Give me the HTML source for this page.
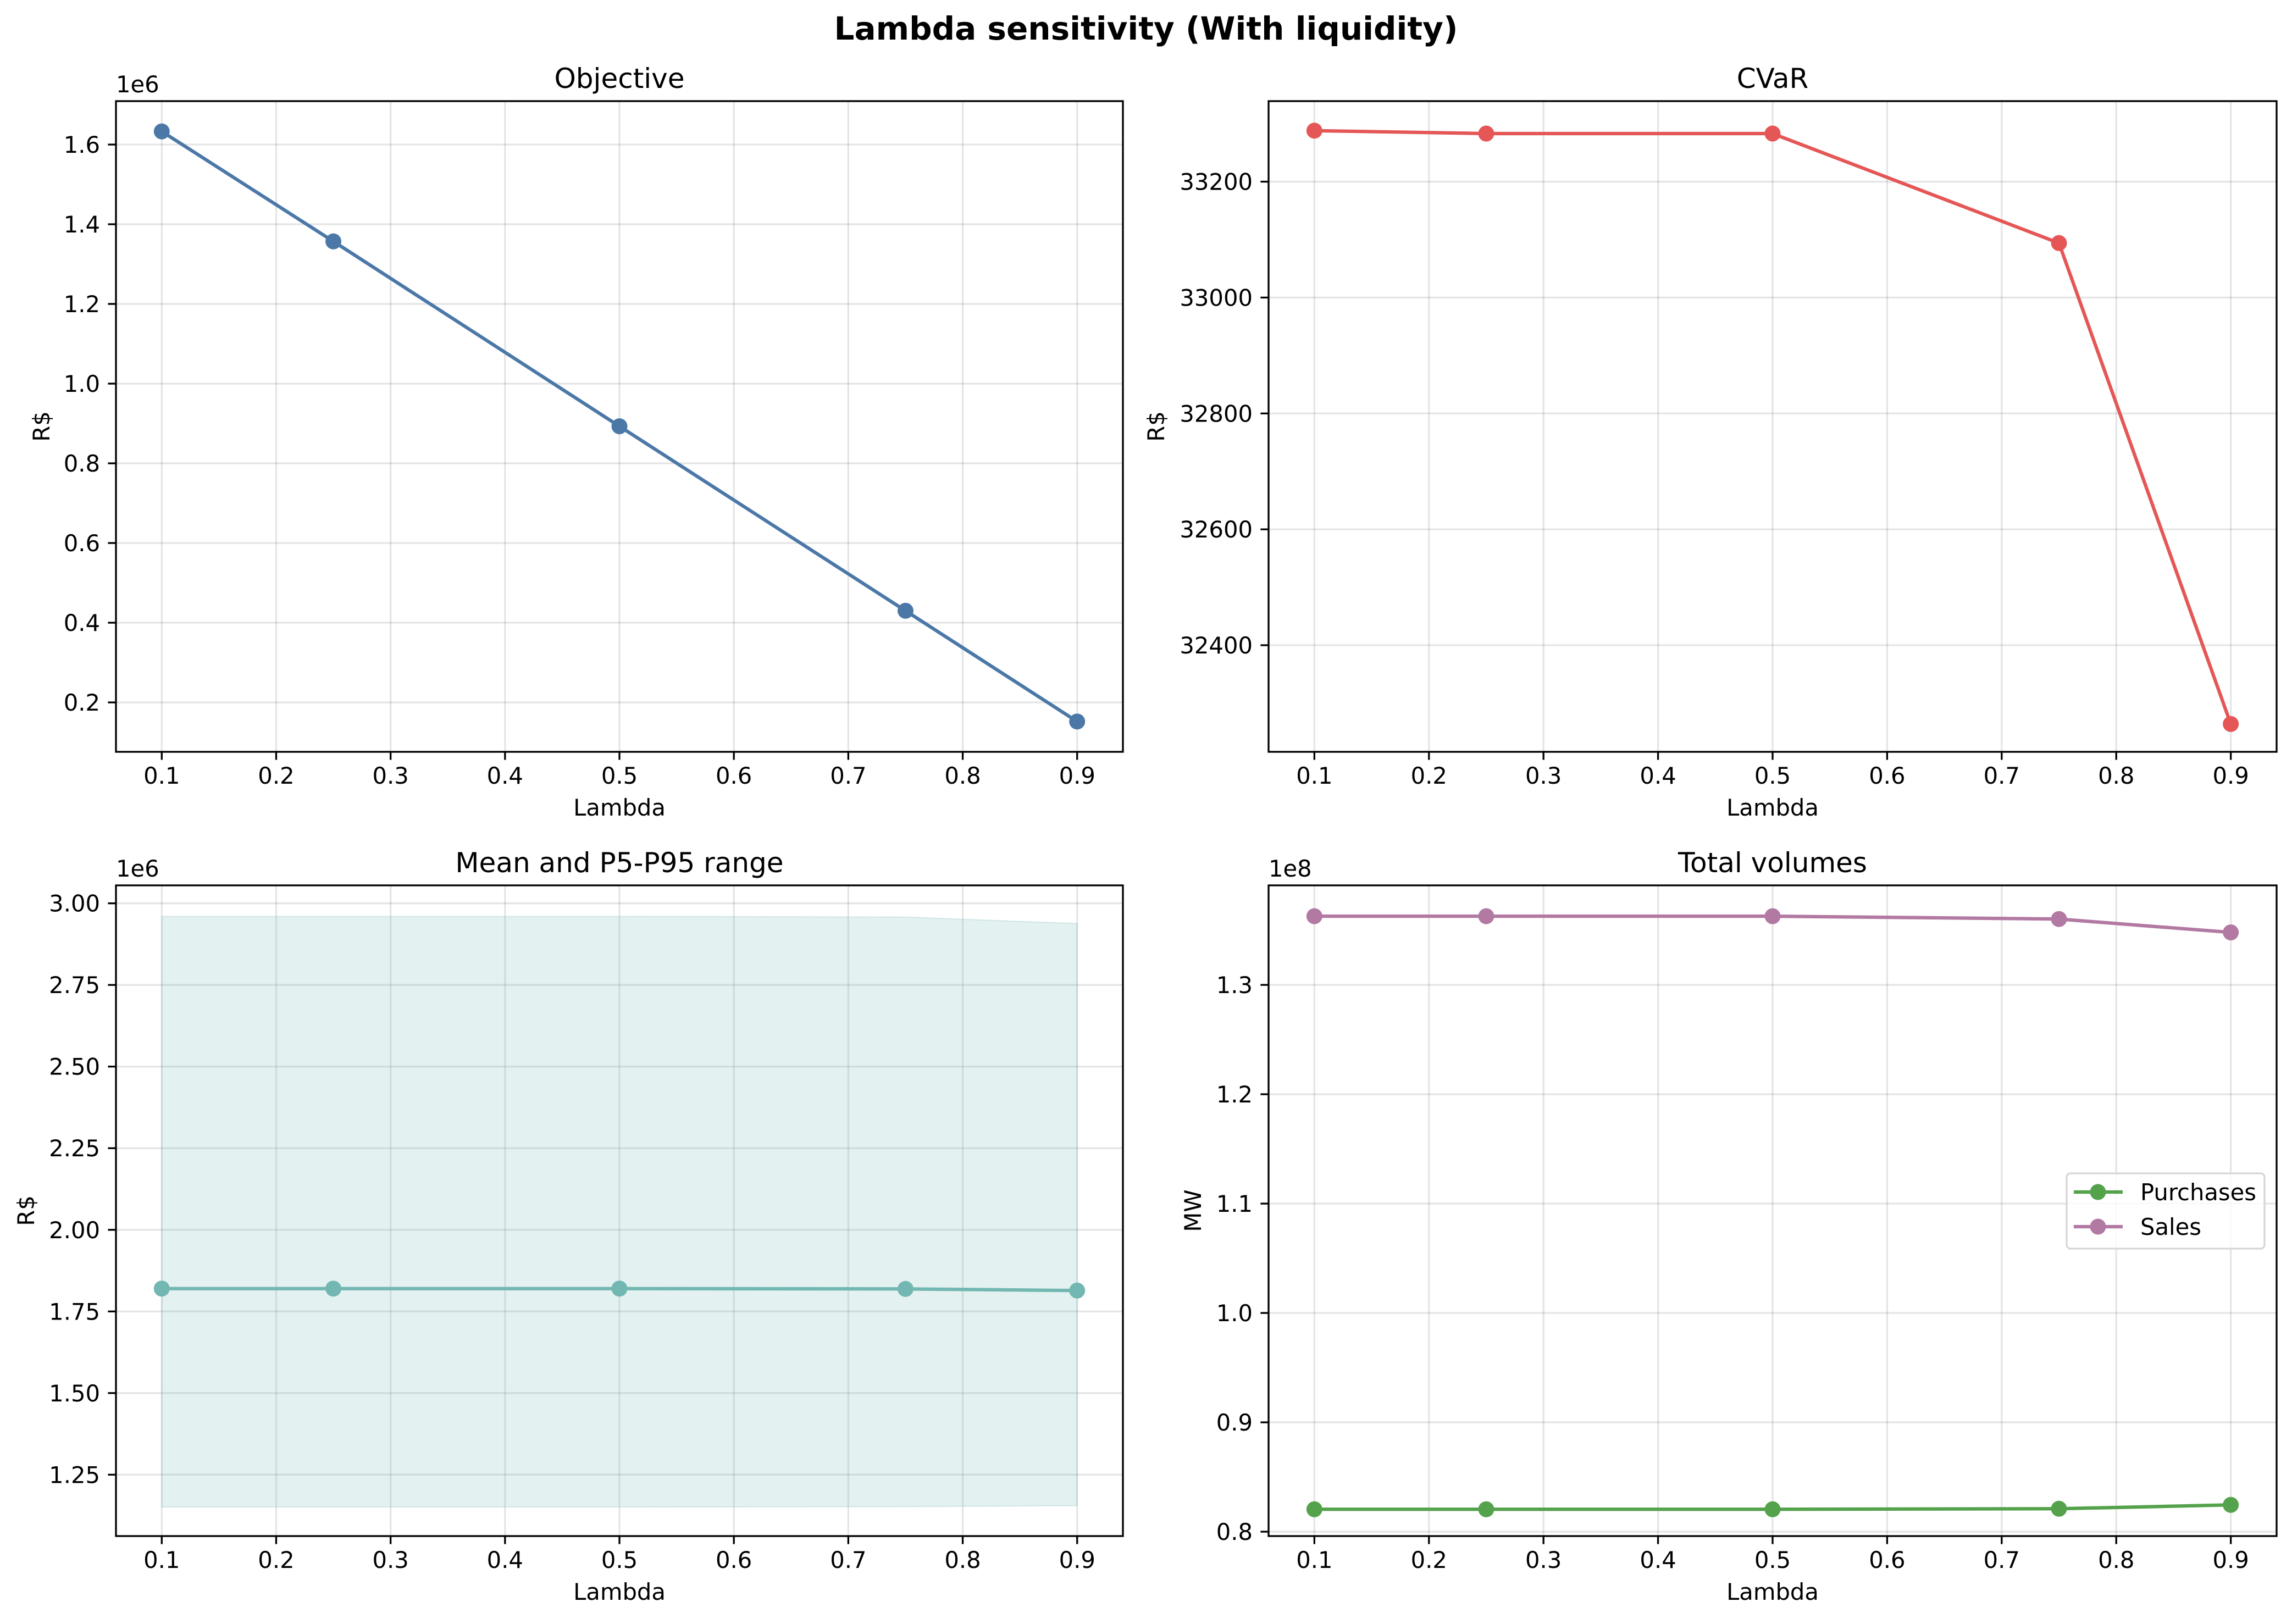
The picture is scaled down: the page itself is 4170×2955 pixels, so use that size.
<!DOCTYPE html>
<html><head><meta charset="utf-8"><style>
html,body{margin:0;padding:0;background:#fff;}
svg{display:block;font-family:"DejaVu Sans","Liberation Sans",sans-serif;}
</style></head><body>
<svg id="fig" xmlns="http://www.w3.org/2000/svg" width="4170" height="2955" viewBox="0 0 4170 2955">
<rect width="4170" height="2955" fill="#fff"/>
<text x="2085" y="72" text-anchor="middle" font-size="58" font-weight="bold">Lambda sensitivity (With liquidity)</text>
</svg>
<script>
const lambdas = [0.1, 0.25, 0.5, 0.75, 0.9];
const xTicks = [0.1, 0.2, 0.3, 0.4, 0.5, 0.6, 0.7, 0.8, 0.9];
const objectiveVals = [1.633, 1.357, 0.893, 0.430, 0.152];
const objectiveTicks = [0.2, 0.4, 0.6, 0.8, 1.0, 1.2, 1.4, 1.6];
const cvarVals = [33288, 33283, 33283, 33094, 32264];
const cvarTicks = [32400, 32600, 32800, 33000, 33200];
const meanVals = [1.820, 1.820, 1.820, 1.819, 1.814];
const p5Vals = [1.151, 1.151, 1.151, 1.152, 1.155];
const p95Vals = [2.960, 2.960, 2.960, 2.958, 2.938];
const meanTicks = [1.25, 1.50, 1.75, 2.00, 2.25, 2.50, 2.75, 3.00];
const purchaseVals = [0.8205, 0.8205, 0.8205, 0.8210, 0.8245];
const salesVals = [1.3628, 1.3628, 1.3628, 1.3602, 1.3480];
const volumeTicks = [0.8, 0.9, 1.0, 1.1, 1.2, 1.3];

const NS = "http://www.w3.org/2000/svg";
const svg = document.getElementById('fig');
const MR = 14.5;
function mk(tag, attrs, parent) {
  const e = document.createElementNS(NS, tag);
  for (const k in attrs) e.setAttribute(k, attrs[k]);
  (parent || svg).appendChild(e);
  return e;
}
function makePanel(o) {
  const g = mk('g', {});
  
  
  const L = o.x0, R = o.x1, T = o.y0, B = o.y1;
  const sx = v => L + (v - 0.06) / (0.94 - 0.06) * (R - L);
  const sy = v => B - (v - o.ymin) / (o.ymax - o.ymin) * (B - T);
  xTicks.forEach(t => {
    const ln = mk('line', {x1: sx(t), x2: sx(t), y1: T, y2: B, stroke: '#000', 'stroke-opacity': 0.1, 'stroke-width': 3.3}, g);
    
    
  });
  o.yticks.forEach(t => {
    const ln = mk('line', {x1: L, x2: R, y1: sy(t), y2: sy(t), stroke: '#000', 'stroke-opacity': 0.1, 'stroke-width': 3.3}, g);
    
    
  });
  if (o.draw) o.draw(g, sx, sy);
  const fr = mk('rect', {x: L, y: T, width: R - L, height: B - T, fill: 'none', stroke: '#000', 'stroke-width': 3.3}, g);
  
  
  xTicks.forEach(t => {
    mk('line', {x1: sx(t), x2: sx(t), y1: B, y2: B + 14.6, stroke: '#000', 'stroke-width': 3.3}, g);
    const tx = mk('text', {x: sx(t), y: B + 58, 'text-anchor': 'middle', 'font-size': 41.7}, g);
    
    
    tx.textContent = t.toFixed(1);
  });
  o.yticks.forEach(t => {
    mk('line', {x1: L - 14.6, x2: L, y1: sy(t), y2: sy(t), stroke: '#000', 'stroke-width': 3.3}, g);
    const tx = mk('text', {x: L - 29, y: sy(t) + 15, 'text-anchor': 'end', 'font-size': 41.7}, g);
    
    
    tx.textContent = o.fmt(t);
  });
  if (o.offset) {
    const ot = mk('text', {x: L, y: T - 16, 'font-size': 41.7}, g);
    
    
    ot.textContent = o.offset;
  }
  const ti = mk('text', {x: (L + R) / 2, y: T - 24, 'text-anchor': 'middle', 'font-size': 50}, g);
  
  
  ti.textContent = o.title;
  const xl = mk('text', {x: (L + R) / 2, y: B + 116, 'text-anchor': 'middle', 'font-size': 41.7}, g);
  
  
  xl.textContent = 'Lambda';
  const yx = o.ylabelX, yy = (T + B) / 2;
  const yl = mk('text', {x: yx, y: yy, 'text-anchor': 'middle', 'font-size': 41.7, transform: `rotate(-90 ${yx} ${yy})`}, g);
  
  
  yl.textContent = o.ylabel;
}
function series(g, sx, sy, vals, color, name) {
  const pts = lambdas.map((l, i) => sx(l) + ',' + sy(vals[i])).join(' ');
  const pl = mk('polyline', {points: pts, fill: 'none', stroke: color, 'stroke-width': 6.25, 'stroke-linejoin': 'round'}, g);
  
  
  lambdas.forEach((l, i) => {
    const c = mk('circle', {cx: sx(l), cy: sy(vals[i]), r: MR, fill: color}, g);
    
    
  });
}
makePanel({name: 'objective-panel', x0: 211, x1: 2043, y0: 184, y1: 1368, ymin: 0.076, ymax: 1.709,
  yticks: objectiveTicks, fmt: t => t.toFixed(1), offset: '1e6', title: 'Objective', ylabel: 'R$', ylabelX: 90,
  draw: (g, sx, sy) => series(g, sx, sy, objectiveVals, '#4c78a8', 'objective')});
makePanel({name: 'cvar-panel', x0: 2308, x1: 4142, y0: 184, y1: 1368, ymin: 32216, ymax: 33339,
  yticks: cvarTicks, fmt: t => String(t), title: 'CVaR', ylabel: 'R$', ylabelX: 2118,
  draw: (g, sx, sy) => series(g, sx, sy, cvarVals, '#e45756', 'cvar')});
makePanel({name: 'mean-range-panel', x0: 211, x1: 2043, y0: 1611, y1: 2795, ymin: 1.062, ymax: 3.055,
  yticks: meanTicks, fmt: t => t.toFixed(2), offset: '1e6', title: 'Mean and P5-P95 range', ylabel: 'R$', ylabelX: 62,
  draw: (g, sx, sy) => {
    const top = lambdas.map((l, i) => sx(l) + ',' + sy(p95Vals[i]));
    const bot = lambdas.map((l, i) => sx(l) + ',' + sy(p5Vals[i])).reverse();
    const pg = mk('polygon', {points: top.concat(bot).join(' '), fill: '#72b7b2', 'fill-opacity': 0.2, stroke: '#72b7b2', 'stroke-opacity': 0.25, 'stroke-width': 2}, g);
    
    
    series(g, sx, sy, meanVals, '#72b7b2', 'mean');
  }});
makePanel({name: 'volumes-panel', x0: 2308, x1: 4142, y0: 1611, y1: 2795, ymin: 0.796, ymax: 1.391,
  yticks: volumeTicks, fmt: t => t.toFixed(1), offset: '1e8', title: 'Total volumes', ylabel: 'MW', ylabelX: 2185,
  draw: (g, sx, sy) => {
    series(g, sx, sy, purchaseVals, '#54a24b', 'purchases');
    series(g, sx, sy, salesVals, '#b279a2', 'sales');
  }});
const lg = mk('g', {});


mk('rect', {x: 3760, y: 2135, width: 360, height: 137, rx: 7, fill: '#fff', 'fill-opacity': 0.8, stroke: '#d6d6d6', 'stroke-width': 3.3}, lg);
[['Purchases', '#54a24b', 2169], ['Sales', '#b279a2', 2232]].forEach(([lab, col, y]) => {
  const e = mk('g', {}, lg);
  
  
  mk('line', {x1: 3773, x2: 3862, y1: y, y2: y, stroke: col, 'stroke-width': 6.25}, e);
  mk('circle', {cx: 3817, cy: y, r: MR, fill: col}, e);
  const t = mk('text', {x: 3894, y: y + 15, 'font-size': 41.7}, e);
  t.textContent = lab;
});
</script>
</body></html>
